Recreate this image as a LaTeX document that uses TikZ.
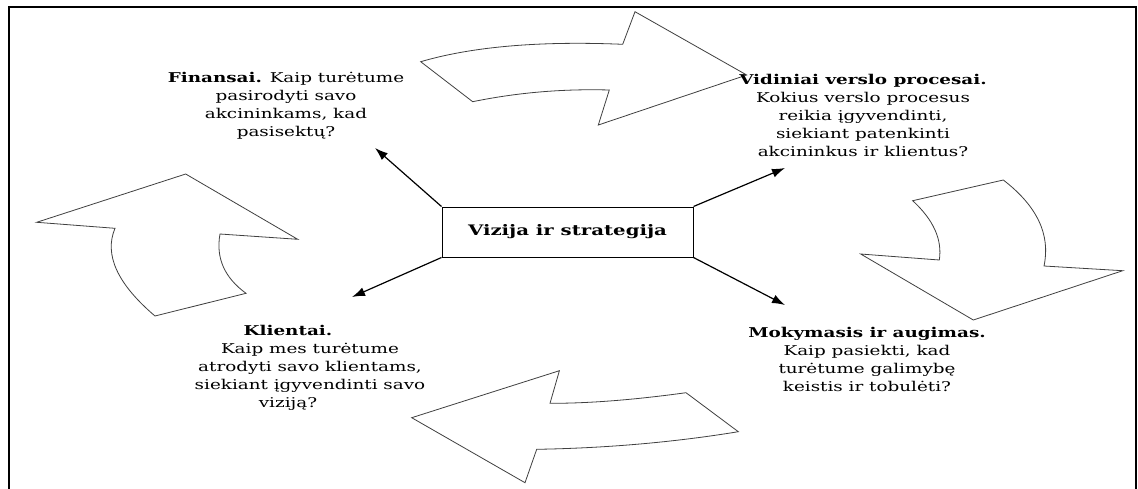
\documentclass[tikz,border=0pt]{standalone}
\usepackage{fontspec}
\setmainfont[FakeStretch=1.36]{DejaVu Serif}
\usetikzlibrary{arrows.meta}
\begin{document}
\begin{tikzpicture}[x=1pt,y=-1pt,
  txt/.style={align=center, font=\fontsize{13.5}{18}\selectfont, inner sep=0pt},
  blockarrow/.style={draw=black!75, line width=0.8pt, fill=white, line join=miter},
  ray/.style={-{Latex[length=13pt,width=9pt]}, line width=1.2pt}]
\useasboundingbox (0,0) rectangle (1138,488);
\fill[white] (0,0) rectangle (1138,488);
% open frame
\draw[line width=2pt] (9,490) -- (9,7) -- (1136,7) -- (1136,490);

% curved block arrows forming the cycle
\draw[blockarrow] (420.7,61.7) .. controls (472.2,46.6) and (539.6,40.8) .. (622.7,44.3)
  -- (635,11.7) -- (746.7,75) -- (598.3,125) -- (609.3,90)
  .. controls (562.4,88.7) and (516.9,92.6) .. (472.7,101.7) -- cycle;
\draw[blockarrow] (912.7,200.7) -- (1003.3,180)
  .. controls (1037.1,206) and (1050.7,234.7) .. (1044,266)
  -- (1122.7,270.7) -- (973.3,320) -- (860.7,254) -- (939.3,260)
  .. controls (942.4,239.7) and (933.6,220) .. cycle;
\draw[blockarrow] (411.7,417.7) -- (559.4,370.7) -- (550,403.3)
  .. controls (589.1,403.4) and (634.4,399.8) .. (686,392.7) -- (738.3,431.7)
  .. controls (674.4,442.2) and (607.2,448.1) .. (536.7,449.3) -- (525,482.7) -- cycle;
\draw[blockarrow] (185.7,174) -- (297.7,239.3) -- (220,234)
  .. controls (215.7,257.9) and (224.4,277.6) .. (246,293.3) -- (155,316)
  .. controls (117.3,283.9) and (103.9,254.6) .. (115,228.3) -- (36.7,222.3) -- cycle;

% central box
\node[draw, line width=1pt, minimum width=251pt, minimum height=50pt, inner sep=0pt,
  font=\fontsize{14.5}{18}\selectfont\bfseries] (box) at (567.5,232)
  {\raisebox{5pt}{Vizija ir strategija}};

% perspective texts
\node[txt] (fin) at (286,106) {\textbf{Finansai.} Kaip turėtume\\pasirodyti savo\\akcininkams, kad\\pasisektų?};
\node[txt] (vid) at (863,115) {\textbf{Vidiniai verslo procesai.}\\Kokius verslo procesus\\reikia įgyvendinti,\\siekiant patenkinti\\akcininkus ir klientus?};
\node[txt] (kli) at (299,367.5) {\textbf{Klientai.}\hspace*{22pt}\\\hspace*{22pt}Kaip mes turėtume\\\hspace*{22pt}atrodyti savo klientams,\\\hspace*{22pt}siekiant įgyvendinti savo\\viziją?\hspace*{22pt}};
\node[txt] (mok) at (867,359.5) {\textbf{Mokymasis ir augimas.}\\Kaip pasiekti, kad\\turėtume galimybę\\keistis ir tobulėti?};

% rays from the box to the four perspectives
\coordinate (tfin) at (375,148);
\coordinate (tvid) at (785,168);
\coordinate (tkli) at (352,297);
\coordinate (tmok) at (785,305);
\draw[ray] (box.north west) -- (tfin);
\draw[ray] (box.north east) -- (tvid);
\draw[ray] (box.south west) -- (tkli);
\draw[ray] (box.south east) -- (tmok);
\end{tikzpicture}
\end{document}
